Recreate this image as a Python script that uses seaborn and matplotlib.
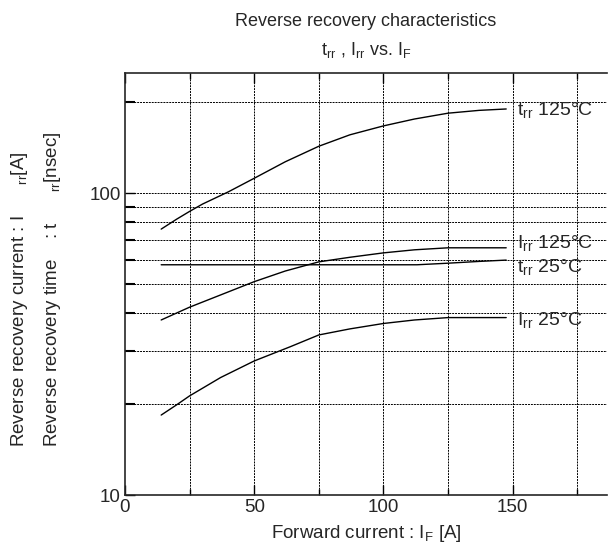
import numpy as np
import pandas as pd
import matplotlib
matplotlib.use("Agg")
import matplotlib.pyplot as plt
import seaborn as sns
from matplotlib.ticker import FixedLocator, NullFormatter, FixedFormatter

# ---- data ----
x_trr125 = [14, 20, 25, 30, 40, 50, 62, 75, 87, 100, 112, 125, 137, 147.5]
y_trr125 = [76, 82, 87, 92, 101, 112, 127, 143, 156, 167, 176, 184, 188, 190]

x_irr125 = [14, 25, 37, 50, 62, 75, 87, 100, 112, 125, 147.5]
y_irr125 = [38.0, 41.9, 46.0, 50.9, 55.2, 59.2, 61.3, 63.4, 64.9, 65.9, 65.9]

x_trr25 = [14, 50, 100, 113, 125, 137, 147.5]
y_trr25 = [57.9, 57.9, 57.9, 57.9, 58.6, 59.4, 60.0]

x_irr25 = [14, 20, 25, 37, 50, 64, 75, 87, 100, 112, 125, 147.5]
y_irr25 = [18.4, 19.9, 21.3, 24.5, 27.8, 31.0, 33.9, 35.5, 37.0, 38.0, 38.7, 38.7]

series_names = ["trr125", "irr125", "trr25", "irr25"]
series_labels = ["t$_{\\mathrm{rr}}$ 125°C", "I$_{\\mathrm{rr}}$ 125°C",
                 "t$_{\\mathrm{rr}}$ 25°C", "I$_{\\mathrm{rr}}$ 25°C"]
label_y = [188, 68.3, 56.9, 38.0]

x_major = [0, 50, 100, 150]
x_minor = [25, 75, 125, 175]
y_major = [10, 100]
y_minor = [20, 30, 40, 50, 60, 70, 80, 90, 200]

frames = []
for name, xs, ys in zip(series_names,
                        [x_trr125, x_irr125, x_trr25, x_irr25],
                        [y_trr125, y_irr125, y_trr25, y_irr25]):
    frames.append(pd.DataFrame({"IF": xs, "val": ys, "series": name}))
df = pd.concat(frames, ignore_index=True)

# ---- style ----
sns.set_style("ticks")
plt.rcParams["font.family"] = ["Liberation Sans", "DejaVu Sans"]
plt.rcParams["mathtext.fontset"] = "custom"
plt.rcParams["mathtext.rm"] = "Liberation Sans"
plt.rcParams["mathtext.it"] = "Liberation Sans"

W, H = 609, 559
fig = plt.figure(figsize=(W / 100, H / 100), dpi=100)
ax = fig.add_axes([125 / W, 1 - 495 / H, (607 - 125) / W, (495 - 73) / H])

sns.lineplot(data=df, x="IF", y="val", units="series", estimator=None,
             color="black", linewidth=1.0, ax=ax, legend=False, sort=False)

ax.set_yscale("log")
ax.set_xlim(0, 186.5)
ax.set_ylim(10, 250)

ax.xaxis.set_major_locator(FixedLocator(x_major))
ax.xaxis.set_minor_locator(FixedLocator(x_minor))
ax.yaxis.set_major_locator(FixedLocator(y_major))
ax.yaxis.set_major_formatter(FixedFormatter([str(v) for v in y_major]))
ax.yaxis.set_minor_locator(FixedLocator(y_minor))
ax.yaxis.set_minor_formatter(NullFormatter())

grid_kw = dict(color="black", linestyle=(0, (2.0, 1.0)), linewidth=0.7)
for v in x_major[1:] + x_minor:
    ax.axvline(v, zorder=0, **grid_kw)
for v in y_major[1:] + y_minor:
    ax.axhline(v, zorder=0, **grid_kw)

ax.tick_params(which="both", direction="in", top=True, right=False,
               labelsize=13.5, pad=3, width=1.0, color="black")
ax.tick_params(which="major", length=7)
ax.tick_params(which="minor", length=4)
ax.tick_params(axis="y", which="minor", length=7, width=1.5)

for s in ["left", "bottom", "top"]:
    ax.spines[s].set_visible(True)
    ax.spines[s].set_linewidth(1.2)
ax.spines["right"].set_visible(False)

ax.set_xlabel("Forward current : I$_{\\mathrm{F}}$ [A]", fontsize=13.5, labelpad=5)
ax.set_ylabel("")

for lab, yv in zip(series_labels, label_y):
    ax.text(151.5, yv, lab, fontsize=14, va="center", ha="left")

cx = 0.5 * (125 + 607) / W
fig.text(cx, 1 - 22 / H, "Reverse recovery characteristics",
         ha="center", va="center", fontsize=13)
fig.text(cx, 1 - 50 / H,
         "t$_{\\mathrm{rr}}$ , I$_{\\mathrm{rr}}$ vs. I$_{\\mathrm{F}}$",
         ha="center", va="center", fontsize=13)

fig.text(20 / W, 1 - 447 / H,
         "Reverse recovery current : I      ${}_{\\mathrm{rr}}$[A]",
         rotation=90, ha="center", va="bottom", fontsize=13.5)
fig.text(53 / W, 1 - 447 / H,
         "Reverse recovery time    : t      ${}_{\\mathrm{rr}}$[nsec]",
         rotation=90, ha="center", va="bottom", fontsize=13.5)

fig.savefig("out.png", dpi=100)
